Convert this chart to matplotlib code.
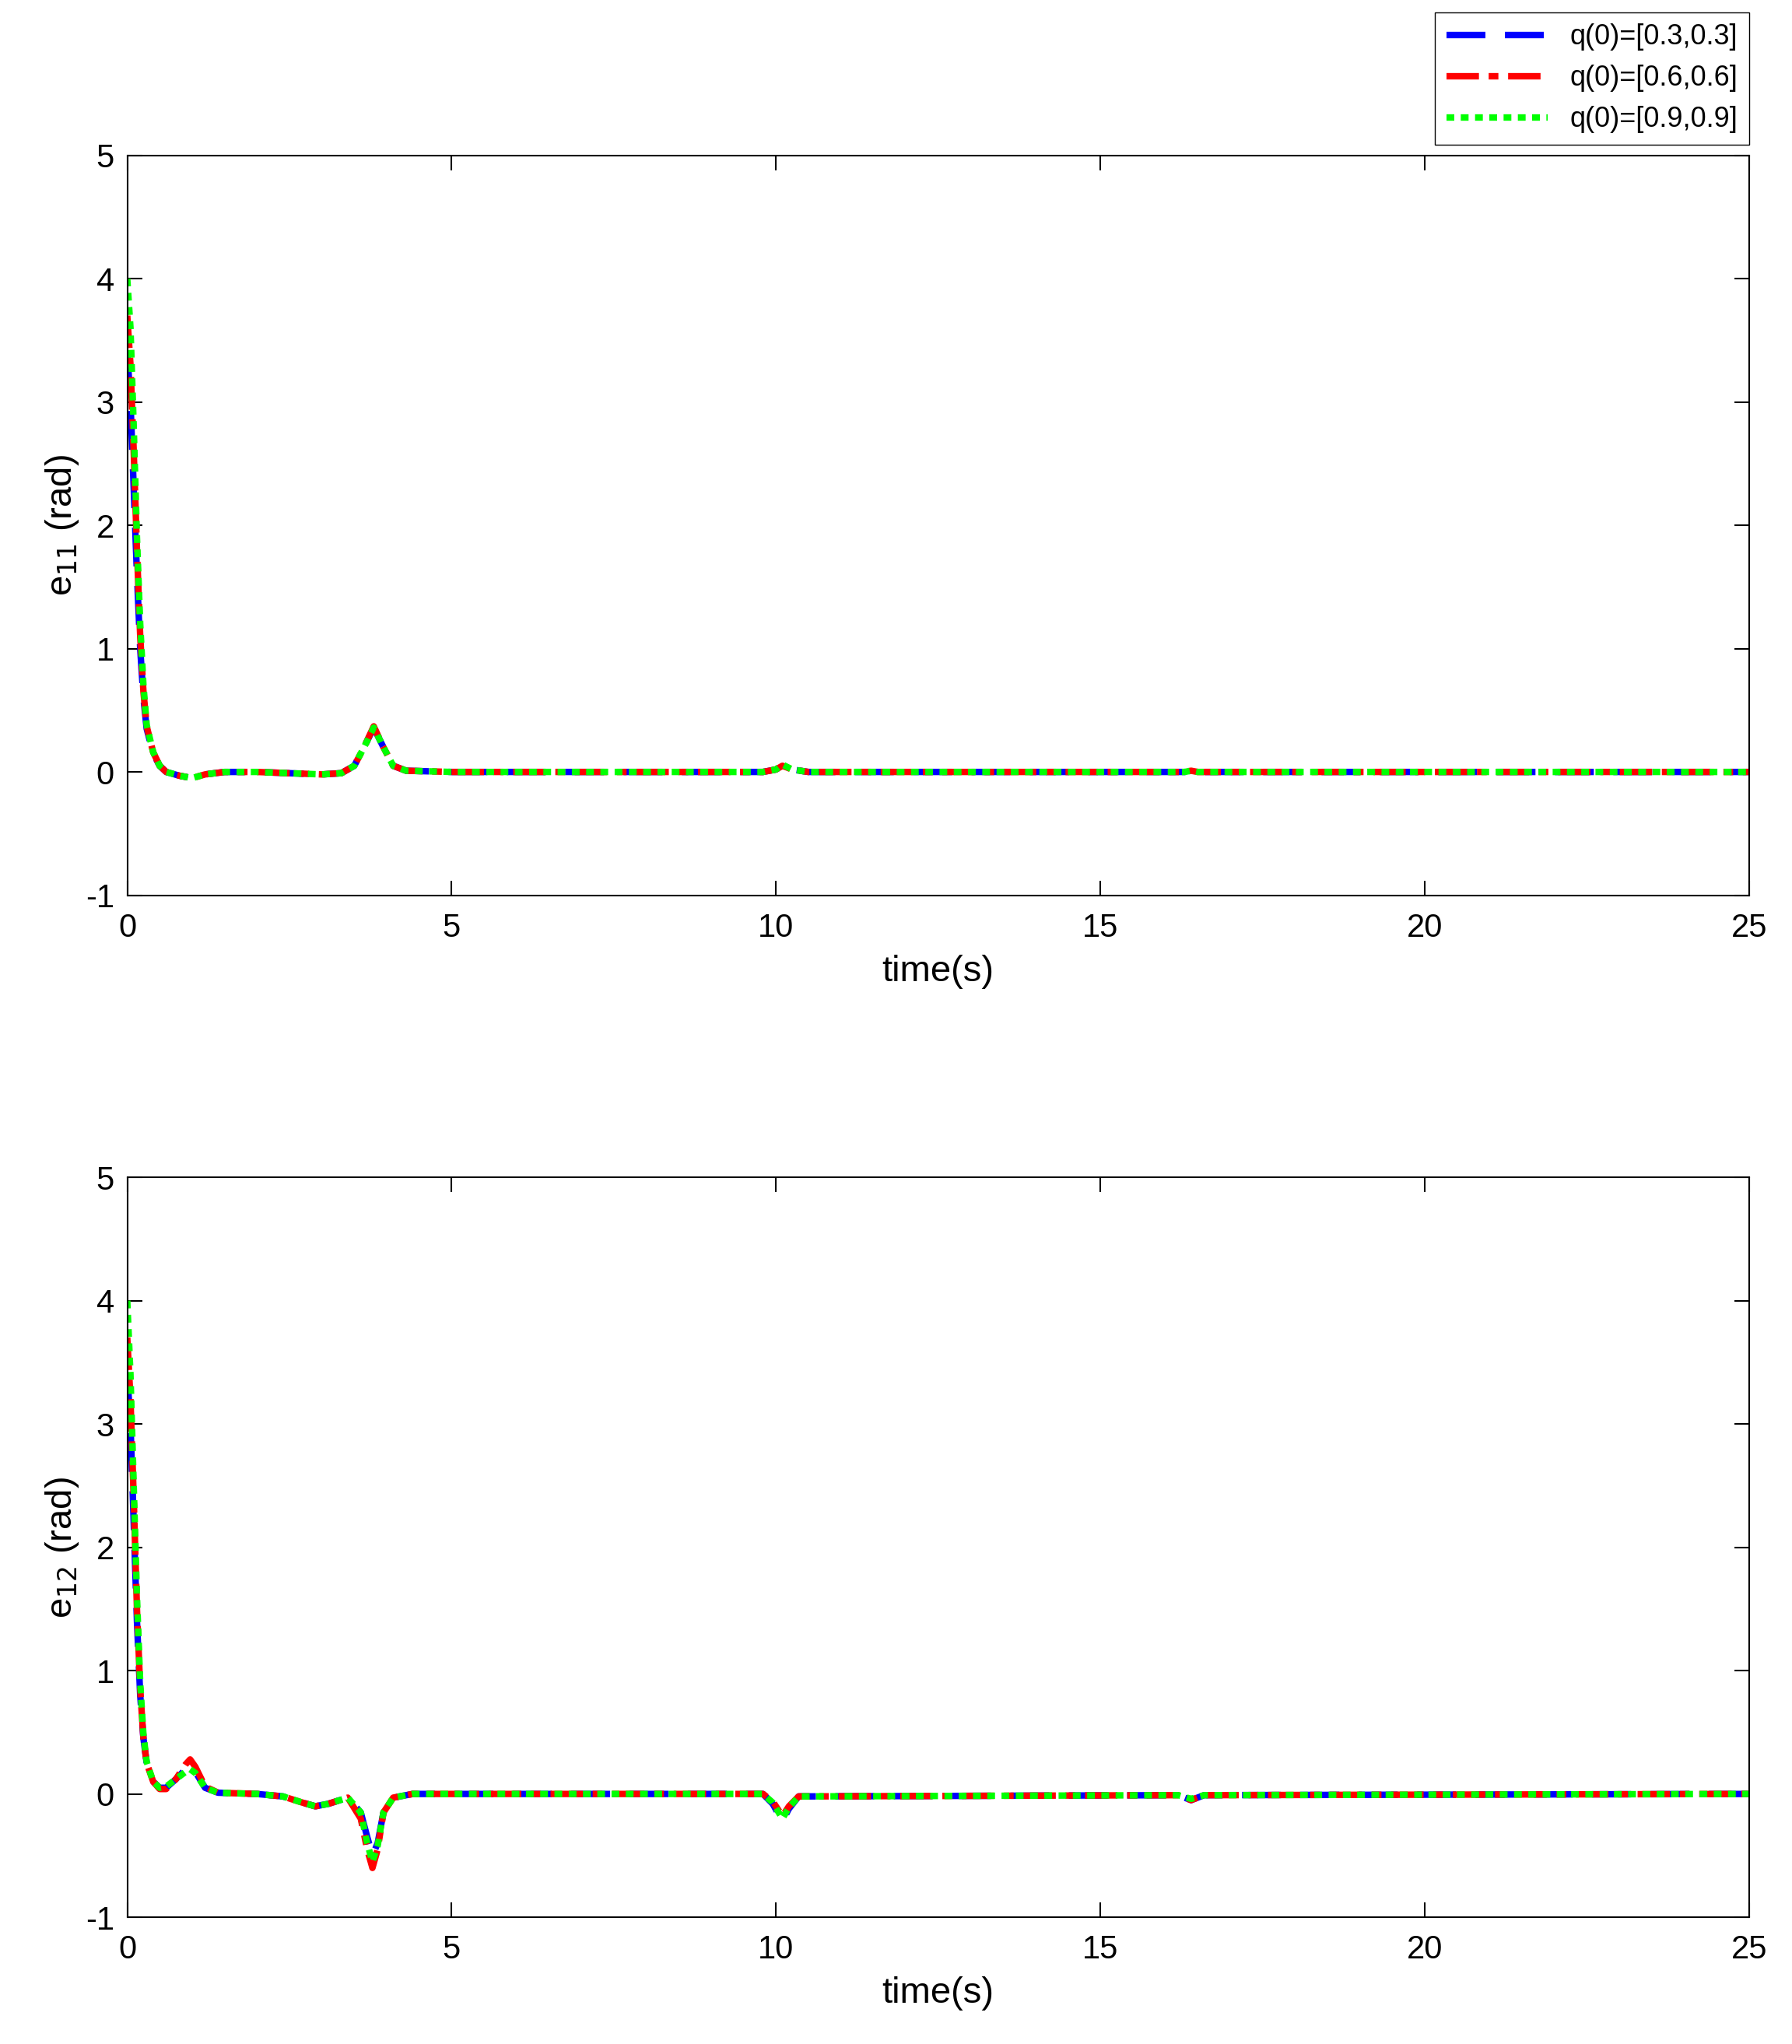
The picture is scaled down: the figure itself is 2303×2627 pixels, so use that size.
import matplotlib
matplotlib.use("Agg")
import matplotlib.pyplot as plt

plt.rcParams['font.family'] = ['Arial', 'Liberation Sans', 'DejaVu Sans']
plt.rcParams['axes.unicode_minus'] = False

labels = ['q(0)=[0.3,0.3]', 'q(0)=[0.6,0.6]', 'q(0)=[0.9,0.9]']
colors = ['#0000ff', '#ff0000', '#00ff00']
styles = [(0, (6, 3)), (0, (5, 1.5, 1.5, 1.5)), (0, (1.2, 1))]

t1 = [0, 0.05, 0.1, 0.15, 0.2, 0.25, 0.3, 0.4, 0.5, 0.6, 0.8, 1.0, 1.2, 1.5, 2.0, 2.5, 3.0, 3.3, 3.5, 3.65, 3.8, 3.95, 4.1, 4.3, 5, 9.8, 10.0, 10.1, 10.25, 10.5, 16.3, 16.4, 16.5, 25]
e11 = [
    [3.4, 3.0, 2.3, 1.6, 1.0, 0.6, 0.35, 0.15, 0.05, 0.0, -0.03, -0.05, -0.02, 0.0, 0.0, -0.01, -0.02, -0.01, 0.05, 0.2, 0.36, 0.2, 0.05, 0.01, 0.0, 0.0, 0.02, 0.05, 0.02, 0.0, 0.0, 0.01, 0.0, 0.0],
    [3.7, 3.3, 2.6, 1.8, 1.1, 0.65, 0.37, 0.16, 0.05, 0.0, -0.03, -0.05, -0.02, 0.0, 0.0, -0.01, -0.02, -0.01, 0.05, 0.2, 0.37, 0.2, 0.05, 0.01, 0.0, 0.0, 0.02, 0.05, 0.02, 0.0, 0.0, 0.01, 0.0, 0.0],
    [4.0, 3.6, 2.8, 1.9, 1.2, 0.7, 0.38, 0.16, 0.05, 0.0, -0.03, -0.05, -0.02, 0.0, 0.0, -0.01, -0.02, -0.01, 0.05, 0.2, 0.36, 0.2, 0.05, 0.01, 0.0, 0.0, 0.02, 0.06, 0.02, 0.0, 0.0, 0.01, 0.0, 0.0],
]

t2 = [0, 0.05, 0.1, 0.15, 0.2, 0.25, 0.3, 0.4, 0.5, 0.6, 0.75, 0.9, 0.97, 1.05, 1.2, 1.4, 2.0, 2.4, 2.7, 2.9, 3.1, 3.4, 3.6, 3.7, 3.78, 3.86, 3.95, 4.1, 4.4, 5, 9.8, 9.95, 10.1, 10.2, 10.35, 16.2, 16.4, 16.6, 25]
e12 = [
    [3.4, 3.0, 2.2, 1.4, 0.8, 0.45, 0.25, 0.1, 0.05, 0.05, 0.12, 0.2, 0.22, 0.18, 0.05, 0.01, 0.0, -0.02, -0.07, -0.1, -0.08, -0.03, -0.15, -0.35, -0.5, -0.4, -0.15, -0.03, 0.0, 0.0, 0.0, -0.08, -0.22, -0.12, -0.02, -0.01, -0.05, -0.01, 0.0],
    [3.7, 3.2, 2.4, 1.5, 0.85, 0.45, 0.25, 0.1, 0.04, 0.04, 0.12, 0.24, 0.28, 0.22, 0.06, 0.01, 0.0, -0.02, -0.07, -0.1, -0.08, -0.03, -0.2, -0.45, -0.6, -0.45, -0.15, -0.03, 0.0, 0.0, 0.0, -0.06, -0.18, -0.1, -0.02, -0.01, -0.05, -0.01, 0.0],
    [4.0, 3.4, 2.5, 1.6, 0.9, 0.48, 0.26, 0.1, 0.05, 0.06, 0.12, 0.18, 0.2, 0.17, 0.05, 0.01, 0.0, -0.02, -0.07, -0.1, -0.08, -0.03, -0.15, -0.4, -0.55, -0.42, -0.15, -0.03, 0.0, 0.0, 0.0, -0.07, -0.2, -0.11, -0.02, -0.01, -0.04, -0.01, 0.0],
]

fig = plt.figure(figsize=(23.03, 26.27), dpi=100)
ax1 = fig.add_axes([0.071, 0.562, 0.905, 0.362])
ax2 = fig.add_axes([0.071, 0.062, 0.905, 0.362])

for ax, t, data, yl in [(ax1, t1, e11, r'e$_{11}$ (rad)'), (ax2, t2, e12, r'e$_{12}$ (rad)')]:
    for vals, c, ls, lab in zip(data, colors, styles, labels):
        ax.plot(t, vals, color=c, linestyle=ls, linewidth=6, label=lab)
    ax.set_xlim(0, 25)
    ax.set_ylim(-1, 5)
    ax.set_xticks([0, 5, 10, 15, 20, 25])
    ax.set_yticks([-1, 0, 1, 2, 3, 4, 5])
    ax.tick_params(direction='in', length=14, width=1.5, labelsize=30, top=True, right=True)
    ax.tick_params(axis='x', pad=16)
    ax.tick_params(axis='y', pad=12)
    for s in ax.spines.values():
        s.set_linewidth(1.5)
    ax.set_xlabel('time(s)', fontsize=34, labelpad=10)
    ax.set_ylabel(yl, fontsize=34)

ax1.legend(loc='upper right', bbox_to_anchor=(0.976, 0.994), bbox_transform=fig.transFigure,
           fontsize=26, fancybox=False, edgecolor='black', framealpha=1, handlelength=3.6,
           borderaxespad=0)
fig.savefig('out.png', dpi=100)
